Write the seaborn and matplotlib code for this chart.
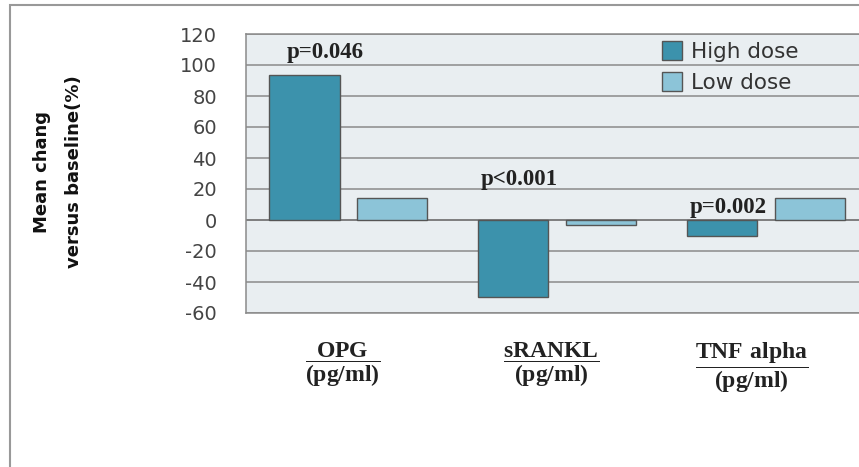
import pandas as pd
import matplotlib.pyplot as plt
import matplotlib.transforms as mtransforms
import seaborn as sns
from matplotlib.patches import Rectangle

# Datos
marcadores = ['OPG', 'sRANKL', 'TNF alpha']
dosis = ['High dose', 'Low dose']
high_dose = [93.5, -49.5, -10.5]
low_dose = [14.0, -3.5, 14.0]
p_valores = ['p=0.046', 'p<0.001', 'p=0.002']
p_altura = [108, 26, 8]
yticks = list(range(-60, 121, 20))

df = pd.DataFrame({
    'marcador': marcadores * 2,
    'dosis': [dosis[0]] * 3 + [dosis[1]] * 3,
    'valor': high_dose + low_dose,
})

sns.set_style('white')
plt.rcParams['mathtext.fontset'] = 'custom'
plt.rcParams['mathtext.rm'] = 'Liberation Serif'
plt.rcParams['mathtext.bf'] = 'Liberation Serif:bold'
plt.rcParams['axes.unicode_minus'] = False

fig = plt.figure(figsize=(8.59, 4.67), dpi=100)
ax = fig.add_axes([246 / 859, 154 / 467, 613 / 859, 279 / 467])
ax.set_facecolor('#E9EEF1')

sns.barplot(data=df, x='marcador', y='valor', hue='dosis', order=marcadores,
            hue_order=dosis, palette=['#3C92AC', '#8CC4D8'], saturation=1,
            width=0.84, gap=0.2, edgecolor='#555555', linewidth=1, ax=ax, zorder=3)

ax.set_ylim(-60, 120)
ax.set_xlim(-0.49, 2.445)
ax.set_yticks(yticks)
ax.yaxis.grid(True, color='#8A8A8A', linewidth=1.1, zorder=0)
ax.set_axisbelow(True)
ax.axhline(0, color='#777777', linewidth=1.1, zorder=2)
ax.tick_params(axis='y', length=0, pad=21, labelsize=14, labelcolor='#444444')
ax.tick_params(axis='x', length=0, pad=20)

etiquetas = [r'$\dfrac{\mathbf{' + m.replace(' ', r'\ ') + r'}}{\mathbf{(pg/ml)}}$' for m in marcadores]
ax.set_xticks(range(len(marcadores)))
ax.set_xticklabels(etiquetas, fontsize=17, color='#222222')
ax.set_xlabel('')
ax.set_ylabel('')

# las etiquetas van un poco a la izquierda
for lbl, dx in zip(ax.get_xticklabels(), [-6, -6, -14]):
    lbl.set_transform(lbl.get_transform() + mtransforms.ScaledTranslation(dx / 100, 0, fig.dpi_scale_trans))

for s in ['top', 'left', 'bottom']:
    ax.spines[s].set_color('#8A8A8A')
    ax.spines[s].set_linewidth(1.1)
ax.spines['right'].set_visible(False)

# p valores
for i, (txt, h) in enumerate(zip(p_valores, p_altura)):
    off = -0.11 if i == 0 else -0.18
    ax.text(i + off, h, txt, ha='center', va='center', fontsize=16.5,
            fontweight='bold', family='Liberation Serif', color='#222222', zorder=4)

ax.legend(loc='upper left', bbox_to_anchor=(0.678, 0.975), frameon=False,
          borderpad=0, borderaxespad=0,
          handlelength=0.95, handleheight=0.95, handletextpad=0.4, labelspacing=0.5,
          prop={'size': 15.5}, labelcolor='#333333')

fig.text(42 / 859, 1 - 172 / 467, 'Mean chang', rotation=90, ha='center', va='center',
         fontsize=13, fontweight='bold', color='#111111')
fig.text(74 / 859, 1 - 172 / 467, 'versus baseline(%)', rotation=90, ha='center', va='center',
         fontsize=13, fontweight='bold', color='#111111')

fig.add_artist(Rectangle((10 / 859, -0.1), 1.2, 1.1 - 5 / 467, transform=fig.transFigure,
                         fill=False, edgecolor='#999999', linewidth=1.5))

fig.savefig('out.png', dpi=100)
